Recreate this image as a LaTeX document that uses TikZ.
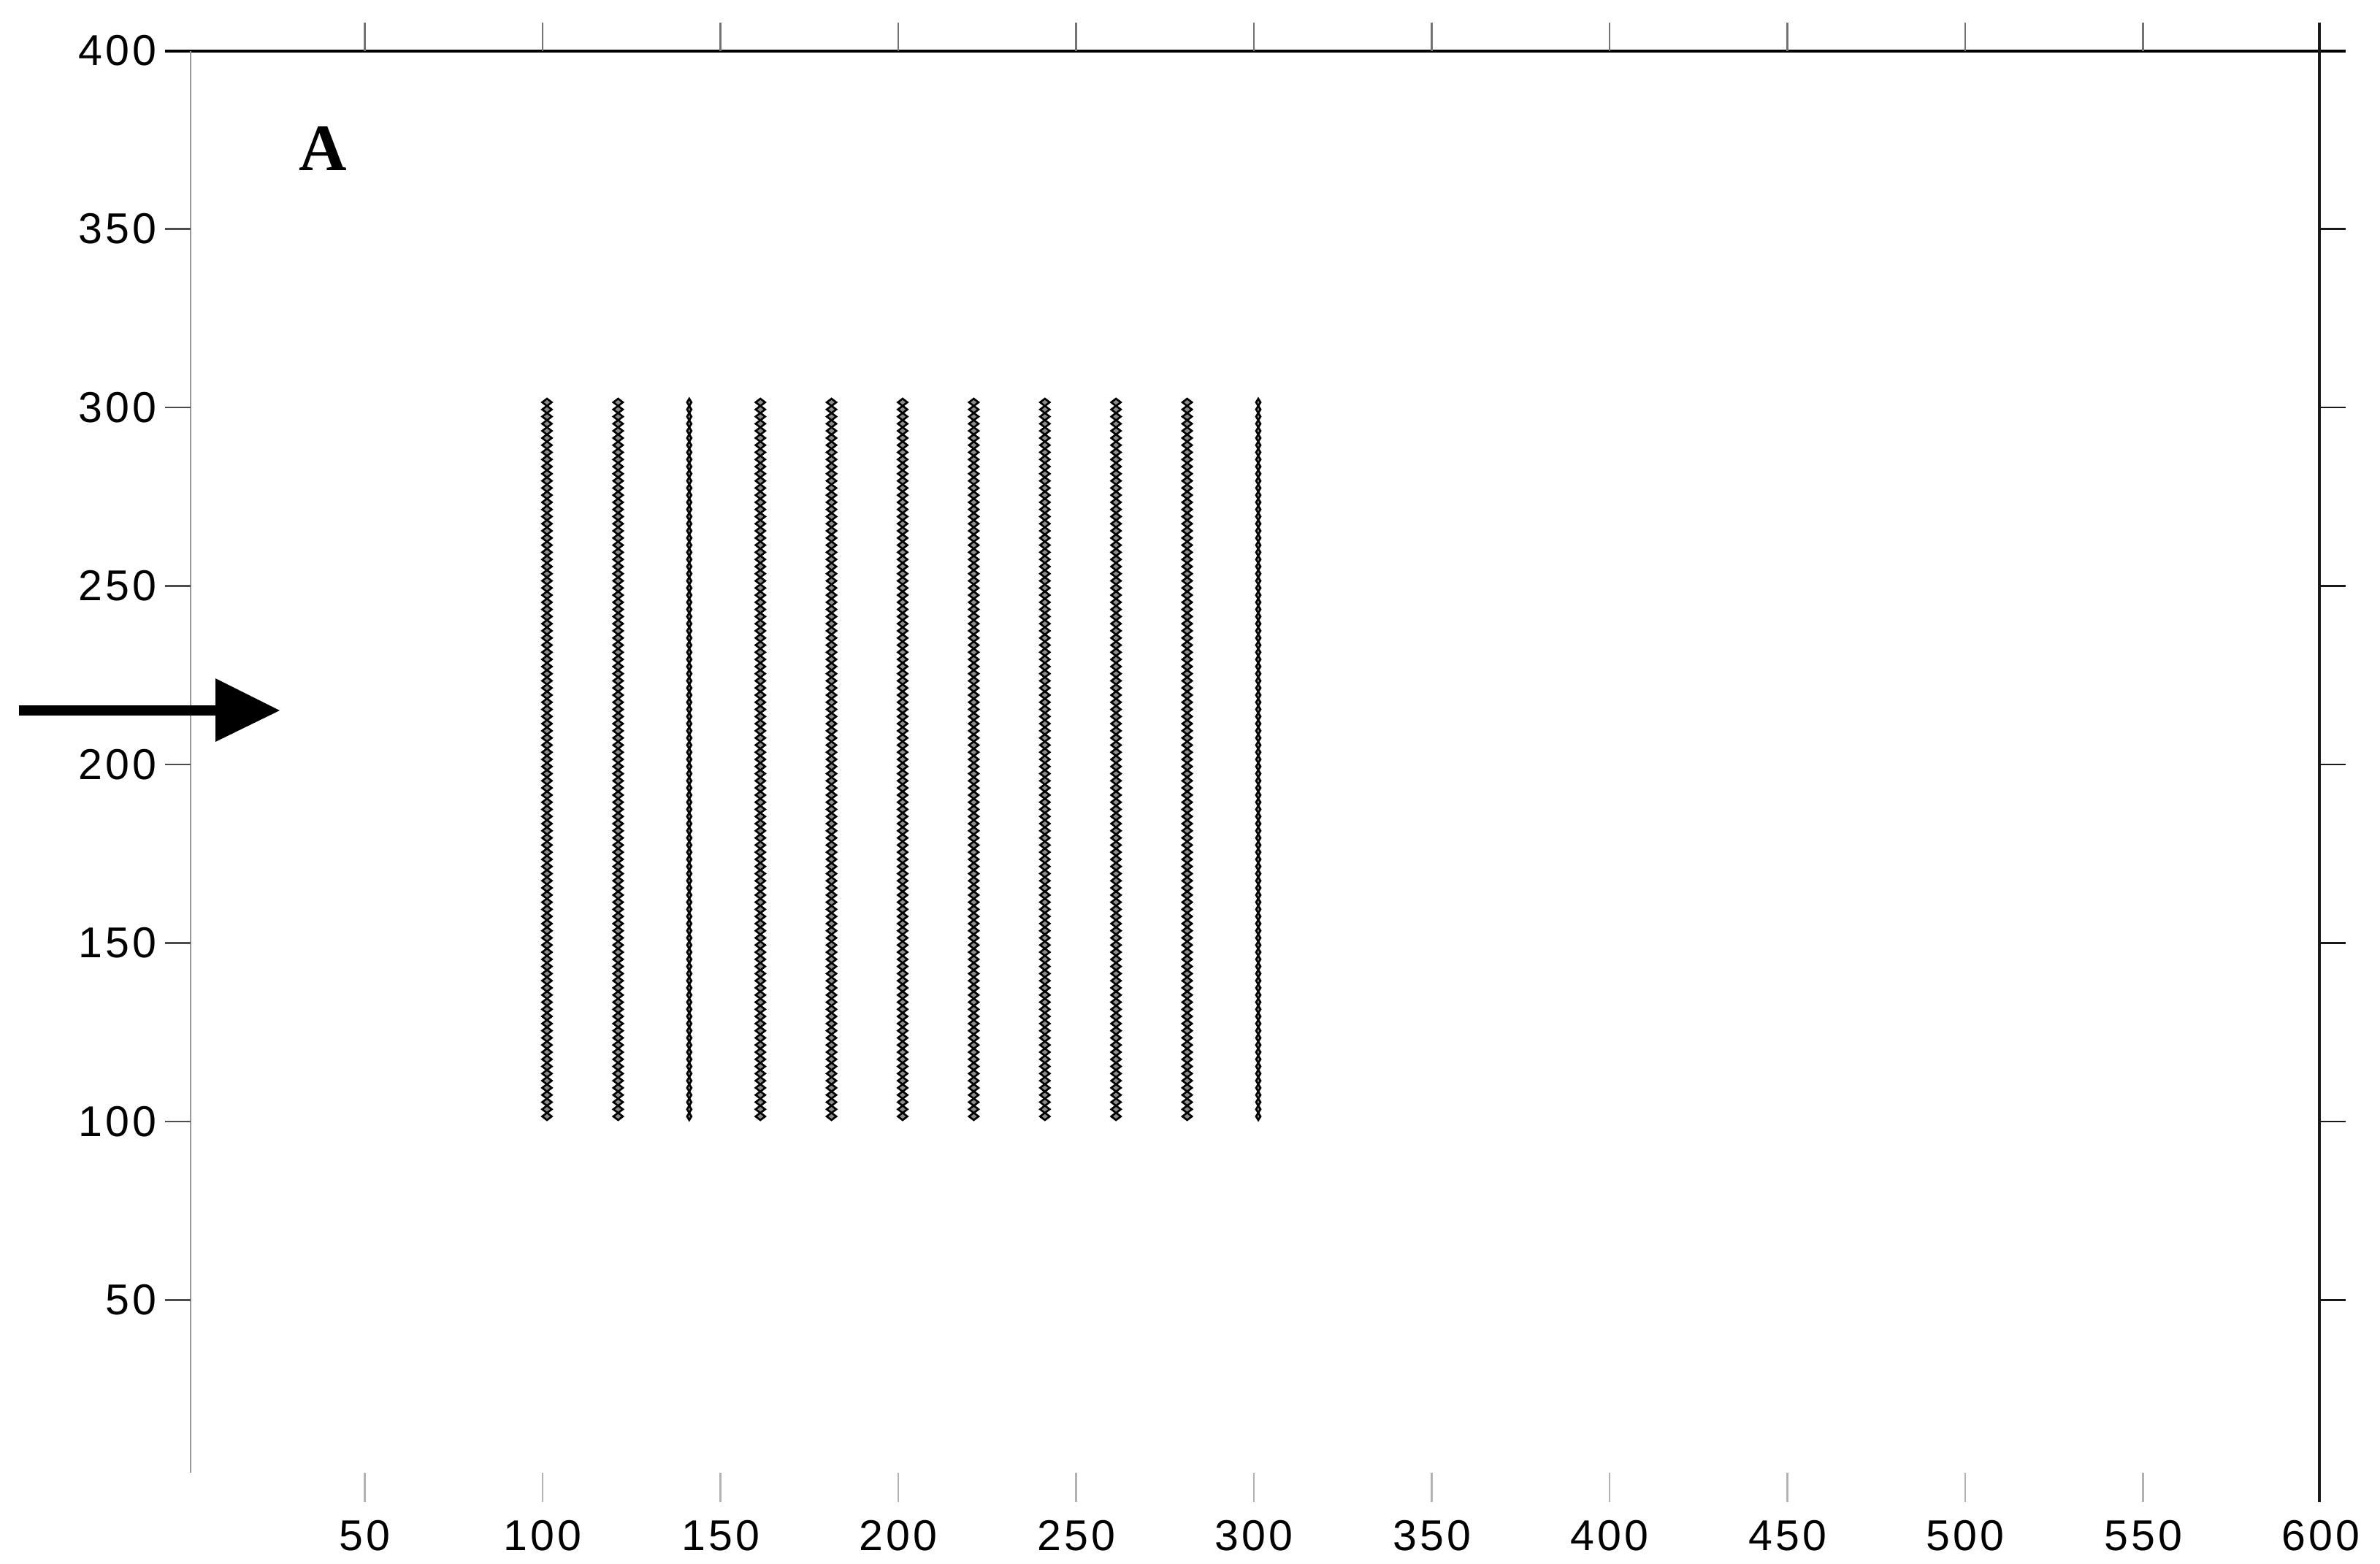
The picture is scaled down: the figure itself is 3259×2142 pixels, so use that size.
\documentclass[tikz,border=0pt]{standalone}
\usepackage{fontspec}
\setmainfont{Liberation Sans}[LetterSpace=7]
\newfontfamily\serifbold{Liberation Serif}
\begin{document}
\begin{tikzpicture}[x=0.01cm,y=-0.01cm,
  ticklbl/.style={inner sep=0pt,font=\fontsize{16.8}{18}\selectfont},
  mk/.style={draw=black,line width=0.75pt,fill=black!45},
  axisdark/.style={draw=black!90,line width=0.9pt},
  axislight/.style={draw=black!40,line width=0.6pt},
  tickstyle/.style={draw=black!55,line width=0.6pt}]
\useasboundingbox (0,0) rectangle (3259,2142);
% frame
\draw[draw=black,line width=1.15pt] (226,70) -- (3212,70);
\draw[axisdark] (3176,31) -- (3176,2057);
\draw[axislight] (261,70) -- (261,2017);
% y ticks and labels
\foreach \v in {350,300,...,50}{
  \draw[tickstyle,draw=black!70] (226,{69+4.89*(400-\v)}) -- (261,{69+4.89*(400-\v)});
  \draw[axisdark,line width=0.8pt] (3176,{69+4.89*(400-\v)}) -- (3212,{69+4.89*(400-\v)});
}
\foreach \v in {400,350,...,50}{
  \node[ticklbl,anchor=east] (yl\v) at (215,{69+4.89*(400-\v)}) {\v};
}
% x ticks and labels
\foreach \v in {50,100,...,550}{
  \draw[tickstyle] ({256+4.87*\v},31) -- ({256+4.87*\v},70);
  \draw[tickstyle,draw=black!30] ({256+4.87*\v},2017) -- ({256+4.87*\v},2057);
}
\foreach \v in {50,100,...,600}{
  \node[ticklbl,anchor=base] (xl\v) at ({256+4.87*\v},2123) {\v};
}
% panel letter
\node[inner sep=0pt,anchor=base,font=\serifbold\bfseries\fontsize{25.8}{28}\selectfont] (lblA) at (442,233) {A};
% arrow
\fill[black] (26,966) rectangle (296,980);
\fill[black] (295,929) -- (383,973) -- (295,1016) -- cycle;
% marker columns
\foreach \c/\w in {100/6.5,120/6.5,140/3,160/6.5,180/6.5,200/6.5,220/6.5,240/6.5,260/6.5,280/6.5,300/3}{
  \foreach \r in {100,102,...,300}{
    \draw[mk] ({262+4.87*\c-\w},{62+4.89*(400-\r)}) -- ++(\w,-5) -- ++(\w,5) -- ++(-\w,5) -- cycle;
  }
}
\end{tikzpicture}
\end{document}
